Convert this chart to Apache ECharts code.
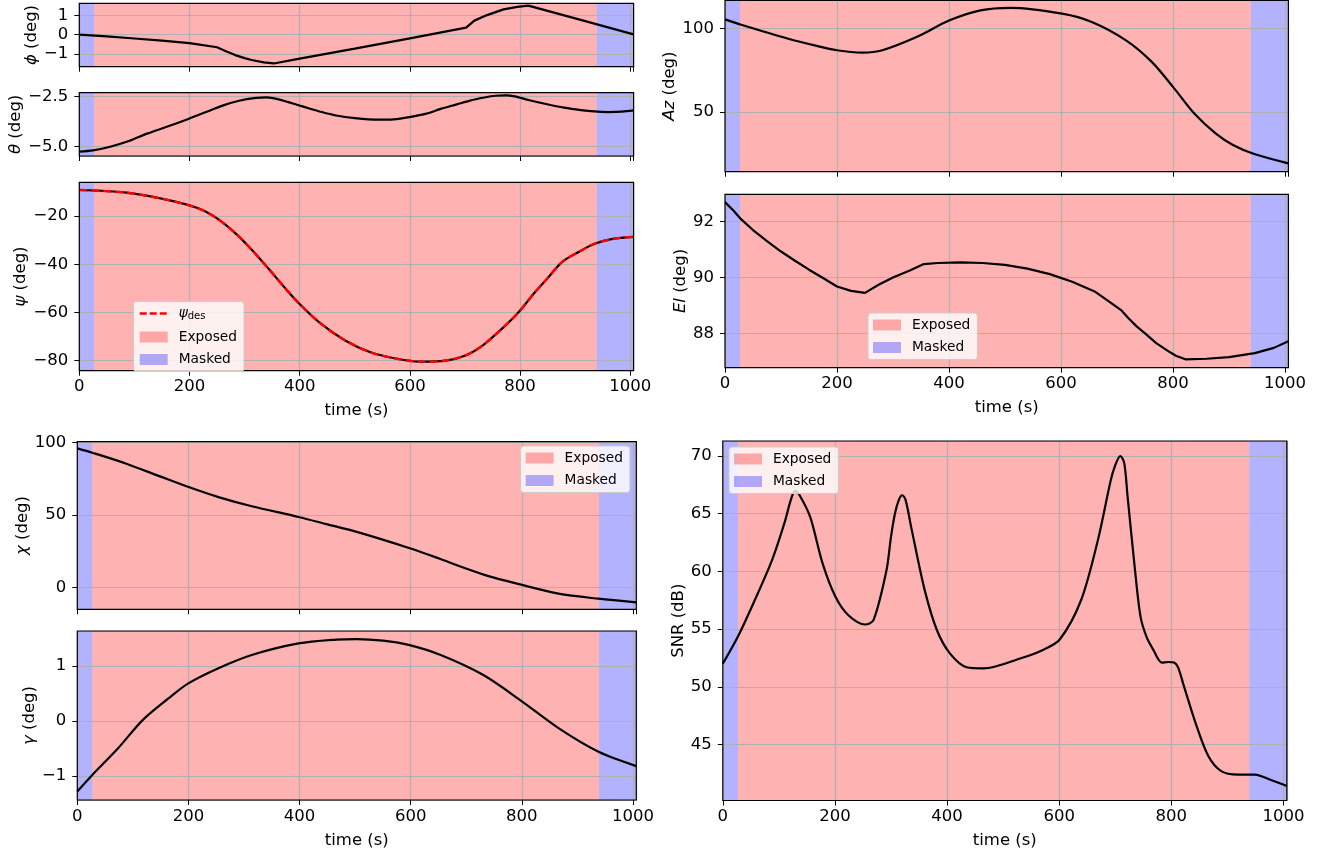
<!DOCTYPE html>
<html>
<head>
<meta charset="utf-8">
<script src="https://cdn.jsdelivr.net/npm/echarts@6/dist/echarts.min.js"></script>
<style>
html,body{margin:0;padding:0;background:#fff;}
#chart{width:1327px;height:857px;}
</style>
</head>
<body>
<div id="chart"></div>
<script>
// ---------- DATA ----------
const tMax = 1006;
const xTicks = [0, 200, 400, 600, 800, 1000];
const exposedSpan = [27, 939];
const maskedSpans = [[0, 27], [939, 1006]];

const phiTime = [0, 50, 100, 150, 200, 250, 265, 283, 300, 313, 335, 353, 400, 500, 600, 702, 717, 740, 770, 795, 815, 900, 1006];
const phiDeg  = [0, -0.09, -0.2, -0.31, -0.44, -0.66, -0.85, -1.07, -1.23, -1.33, -1.45, -1.51, -1.26, -0.73, -0.19, 0.37, 0.74, 1.03, 1.33, 1.46, 1.53, 0.86, 0.02];
const phiRange = [-1.68, 1.65];
const phiTicks = [-1, 0, 1];

const thetaTime = [0, 25, 56, 90, 123, 160, 199, 230, 260, 290, 321, 340, 360, 405, 440, 466, 500, 542, 570, 599, 630, 656, 685, 709, 735, 755, 775, 790, 815, 847, 880, 910, 934, 960, 985, 1006];
const thetaDeg  = [-5.24, -5.18, -5.0, -4.72, -4.35, -4.0, -3.61, -3.28, -2.96, -2.72, -2.58, -2.55, -2.64, -3.0, -3.28, -3.45, -3.58, -3.66, -3.64, -3.53, -3.36, -3.12, -2.9, -2.71, -2.56, -2.47, -2.45, -2.5, -2.68, -2.88, -3.06, -3.18, -3.25, -3.28, -3.26, -3.2];
const thetaRange = [-5.46, -2.32];
const thetaTicks = [-5.0, -2.5];

const psiTime = [0, 86, 162, 216, 250, 285, 313, 344, 374, 397, 435, 481, 526, 572, 618, 664, 702, 733, 771, 798, 825, 849, 877, 907, 934, 968, 1006];
const psiDeg  = [-9.2, -10.3, -13.4, -16.8, -21.0, -27.5, -34.0, -42.0, -50.0, -55.8, -64.0, -71.4, -76.3, -79.0, -80.4, -80.0, -77.7, -73.5, -65.9, -59.7, -52.1, -46.0, -38.9, -34.8, -31.6, -29.5, -28.6];
const psiDesDeg = [-9.2, -10.3, -13.4, -16.8, -21.0, -27.5, -34.0, -42.0, -50.0, -55.8, -64.0, -71.4, -76.3, -79.0, -80.4, -80.0, -77.7, -73.5, -65.9, -59.7, -52.1, -46.0, -38.9, -34.8, -31.6, -29.5, -28.6];
const psiRange = [-84.15, -6.0];
const psiTicks = [-80, -60, -40, -20];

const chiTime = [0, 27, 87, 150, 199, 254, 314, 398, 450, 503, 597, 650, 692, 740, 797, 866, 938, 1006];
const chiDeg  = [96.1, 93.1, 85.7, 76.6, 69.6, 62.5, 56.2, 48.8, 43.7, 38.5, 27.4, 20.3, 14.3, 8.0, 2.3, -4.1, -7.6, -10.1];
const chiRange = [-14.9, 100.7];
const chiTicks = [0, 50, 100];

const gammaTime = [0, 27, 73, 118, 164, 199, 254, 314, 398, 466, 503, 550, 598, 654, 730, 797, 866, 938, 1006];
const gammaDeg  = [-1.28, -0.98, -0.5, 0.02, 0.41, 0.68, 0.96, 1.2, 1.41, 1.48, 1.49, 1.46, 1.38, 1.2, 0.84, 0.38, -0.13, -0.56, -0.82];
const gammaRange = [-1.436, 1.636];
const gammaTicks = [-1, 0, 1];

const azTime = [0, 29, 113, 160, 200, 245, 281, 342, 401, 456, 510, 602, 655, 716, 762, 801, 838, 876, 907, 945, 1006];
const azDeg  = [105.6, 102.4, 94.0, 90.0, 87.1, 85.7, 87.1, 95.0, 105.0, 111.0, 112.5, 109.0, 104.0, 93.0, 80.1, 64.7, 49.2, 37.3, 30.3, 24.9, 19.3];
const azRange = [14.3, 116.9];
const azTicks = [50, 100];

const elTime = [0, 15, 29, 50, 75, 100, 125, 150, 175, 200, 225, 250, 275, 300, 330, 355, 380, 420, 460, 500, 540, 580, 620, 660, 708, 720, 735, 750, 770, 790, 805, 822, 860, 900, 946, 980, 1006];
const elDeg  = [92.7, 92.4, 92.08, 91.7, 91.3, 90.93, 90.6, 90.28, 89.98, 89.68, 89.52, 89.45, 89.75, 90.0, 90.25, 90.48, 90.52, 90.54, 90.52, 90.45, 90.32, 90.12, 89.85, 89.5, 88.82, 88.55, 88.25, 88.0, 87.65, 87.38, 87.2, 87.07, 87.09, 87.15, 87.29, 87.48, 87.72];
const elRange = [86.77, 92.98];
const elTicks = [88, 90, 92];

const snrTime = [0, 27, 57, 88, 110, 122, 129, 137, 156, 178, 201, 224, 254, 269, 292, 300, 307, 314, 320, 326, 337, 360, 382, 405, 435, 465, 533, 571, 601, 639, 669, 692, 700, 709, 716, 722, 734, 745, 756, 768, 783, 795, 805, 812, 821, 843, 866, 889, 919, 949, 979, 1006];
const snrDb   = [52.0, 54.35, 57.5, 61.0, 64.2, 66.3, 66.97, 66.6, 64.7, 60.7, 57.8, 56.2, 55.4, 55.8, 60.1, 63.0, 65.0, 66.2, 66.6, 66.2, 63.6, 58.4, 54.9, 52.9, 51.7, 51.6, 52.5, 53.2, 54.1, 57.5, 62.7, 67.9, 69.2, 70.0, 69.4, 66.5, 60.7, 56.1, 54.3, 53.2, 52.1, 52.15, 52.1, 51.7, 50.3, 46.9, 44.0, 42.7, 42.4, 42.4, 41.9, 41.4];
const snrRange = [40.15, 71.3];
const snrTicks = [45, 50, 55, 60, 65, 70];

// ---------- STYLE / LAYOUT ----------
const FONT = "'DejaVu Sans', 'Noto Sans', sans-serif";
const EXPOSED = 'rgba(255,0,0,0.3)';
const MASKED = 'rgba(0,0,255,0.3)';
const GRIDC = '#b0b0b0';
const TICK_FS = 16.5, NAME_FS = 16.5, LEG_FS = 13.75;

const panels = [
  {t: phiTime, v: phiDeg, range: phiRange, ticks: phiTicks, dec: 0, sym: 'ϕ', unit: ' (deg)', smooth: false,
   box: {left: 79.3, top: 3.3, width: 554.3, height: 63.4}, nameGap: 35, xLabels: false},
  {t: thetaTime, v: thetaDeg, range: thetaRange, ticks: thetaTicks, dec: 1, sym: 'θ', unit: ' (deg)', smooth: 0.3,
   box: {left: 79.3, top: 92.7, width: 554.3, height: 63.3}, nameGap: 35, xLabels: false},
  {t: psiTime, v: psiDeg, des: psiDesDeg, range: psiRange, ticks: psiTicks, dec: 0, sym: 'ψ', unit: ' (deg)', smooth: 0.3,
   box: {left: 79.3, top: 182.3, width: 554.3, height: 188.4}, nameGap: 36, xLabels: true,
   legend: {left: 133.5, top: 301.5, items: ['ψ_des', 'Exposed', 'Masked']}},
  {t: chiTime, v: chiDeg, range: chiRange, ticks: chiTicks, dec: 0, sym: 'χ', unit: ' (deg)', smooth: 0.3,
   box: {left: 77.3, top: 441.7, width: 559, height: 167.6}, nameGap: 34, xLabels: false,
   legend: {left: 520.6, top: 446, items: ['Exposed', 'Masked']}},
  {t: gammaTime, v: gammaDeg, range: gammaRange, ticks: gammaTicks, dec: 0, sym: 'γ', unit: ' (deg)', smooth: 0.3,
   box: {left: 77.3, top: 631, width: 559, height: 169}, nameGap: 34, xLabels: true},
  {t: azTime, v: azDeg, range: azRange, ticks: azTicks, dec: 0, sym: 'Az', unit: ' (deg)', smooth: 0.3,
   box: {left: 725, top: 0.5, width: 563.4, height: 171.2}, nameGap: 42, xLabels: false},
  {t: elTime, v: elDeg, range: elRange, ticks: elTicks, dec: 0, sym: 'El', unit: ' (deg)', smooth: false,
   box: {left: 725, top: 194.3, width: 563.4, height: 173.4}, nameGap: 36, xLabels: true,
   legend: {left: 868, top: 313, items: ['Exposed', 'Masked']}},
  {t: snrTime, v: snrDb, range: snrRange, ticks: snrTicks, dec: 0, sym: '', unit: 'SNR (dB)', smooth: 0.3,
   box: {left: 722.8, top: 441, width: 564, height: 359.5}, nameGap: 36, xLabels: true,
   legend: {left: 729, top: 447, items: ['Exposed', 'Masked']}}
];

function pts(t, v) { return t.map((x, i) => [x, v[i]]); }
function fmt(dec) {
  return v => (dec ? v.toFixed(dec) : String(Math.round(v))).replace('-', '\u2212');
}

const grids = [], xAxes = [], yAxes = [], series = [], legends = [];

panels.forEach((p, i) => {
  grids.push(Object.assign({show: true, z: 4, backgroundColor: 'transparent',
    borderColor: '#000', borderWidth: 1.2, containLabel: false, outerBoundsMode: 'none'}, p.box));

  xAxes.push({
    gridIndex: i, type: 'value', min: 0, max: tMax, position: 'bottom',
    minInterval: xTicks[1] - xTicks[0], maxInterval: xTicks[1] - xTicks[0], z: 2,
    axisLine: {show: false, onZero: false},
    axisTick: {show: true, length: 5, lineStyle: {color: '#000', width: 1}},
    axisLabel: {show: p.xLabels, showMinLabel: true, showMaxLabel: false, margin: 8,
      formatter: v => String(v),
      color: '#000', fontSize: TICK_FS, fontFamily: FONT},
    splitLine: {show: true, lineStyle: {color: GRIDC, width: 1.2}},
    name: p.xLabels ? 'time (s)' : '', nameLocation: 'middle', nameGap: 32,
    nameTextStyle: {color: '#000', fontSize: NAME_FS, fontFamily: FONT}
  });

  const step = p.ticks[1] - p.ticks[0];
  yAxes.push({
    gridIndex: i, type: 'value', min: p.range[0], max: p.range[1], position: 'left',
    minInterval: step, maxInterval: step, z: 2,
    axisLine: {show: false, onZero: false},
    axisTick: {show: true, length: 5, lineStyle: {color: '#000', width: 1}},
    axisLabel: {showMinLabel: false, showMaxLabel: false, margin: 11, formatter: fmt(p.dec),
      color: '#000', fontSize: TICK_FS, fontFamily: FONT},
    splitLine: {show: true, lineStyle: {color: GRIDC, width: 1.2}},
    name: p.sym ? '{i|' + p.sym + '}' + p.unit : p.unit,
    nameLocation: 'middle', nameGap: p.nameGap, nameRotate: 90,
    nameTextStyle: {color: '#000', fontSize: NAME_FS, fontFamily: FONT,
      rich: {i: {fontStyle: 'italic', fontSize: NAME_FS, fontFamily: FONT, color: '#000'}}}
  });

  series.push({
    type: 'line', name: 'Exposed', xAxisIndex: i, yAxisIndex: i, data: [], color: EXPOSED,
    silent: true,
    markArea: {silent: true, itemStyle: {color: EXPOSED},
      data: [[{xAxis: exposedSpan[0]}, {xAxis: exposedSpan[1]}]]}
  });
  series.push({
    type: 'line', name: 'Masked', xAxisIndex: i, yAxisIndex: i, data: [], color: MASKED,
    silent: true,
    markArea: {silent: true, itemStyle: {color: MASKED},
      data: maskedSpans.map(s => [{xAxis: s[0]}, {xAxis: s[1]}])}
  });
  series.push({
    type: 'line', name: 'main' + i, xAxisIndex: i, yAxisIndex: i, data: pts(p.t, p.v),
    symbol: 'none', z: 3, smooth: p.smooth, silent: true,
    lineStyle: {color: '#000', width: 2.2}
  });
  if (p.des) {
    series.push({
      type: 'line', name: 'ψ_des', xAxisIndex: i, yAxisIndex: i, data: pts(p.t, p.des),
      symbol: 'none', z: 3, silent: true, color: '#ff0000', smooth: p.smooth,
      lineStyle: {color: '#ff0000', width: 2.4, type: [8, 4]}
    });
  }
  if (p.legend) {
    legends.push({
      show: true, orient: 'vertical', left: p.legend.left, top: p.legend.top,
      itemWidth: 28, itemHeight: 11, itemGap: 8.5,
      backgroundColor: 'rgba(255,255,255,0.8)', borderColor: '#cccccc', borderWidth: 1, borderRadius: 3,
      padding: [5, 7, 5, 5],
      data: p.legend.items.map(n => {
        if (n === 'Exposed') return {name: n, icon: 'rect', itemStyle: {color: EXPOSED}};
        if (n === 'Masked') return {name: n, icon: 'rect', itemStyle: {color: MASKED}};
        return {name: n, itemStyle: {color: 'rgba(0,0,0,0)', borderColor: 'rgba(0,0,0,0)', borderWidth: 0, opacity: 0},
                lineStyle: {color: '#ff0000', width: 2.4, type: [7, 3]}};
      }),
      formatter: n => n === 'ψ_des' ? '{g|ψ}{s|des}' : n,
      textStyle: {color: '#000', fontSize: LEG_FS, fontFamily: FONT, padding: [0, 0, 0, 6],
        rich: {g: {fontStyle: 'italic', fontSize: LEG_FS, fontFamily: FONT, color: '#000'},
               s: {fontSize: 10, fontFamily: FONT, color: '#000', padding: [6, 0, 0, 0]}}}
    });
  }
});

const chart = echarts.init(document.getElementById('chart'), null, {renderer: 'canvas'});
chart.setOption({
  animation: false,
  backgroundColor: '#ffffff',
  grid: grids, xAxis: xAxes, yAxis: yAxes, series: series, legend: legends,
  markArea: {z: 1}
});
</script>
</body>
</html>
